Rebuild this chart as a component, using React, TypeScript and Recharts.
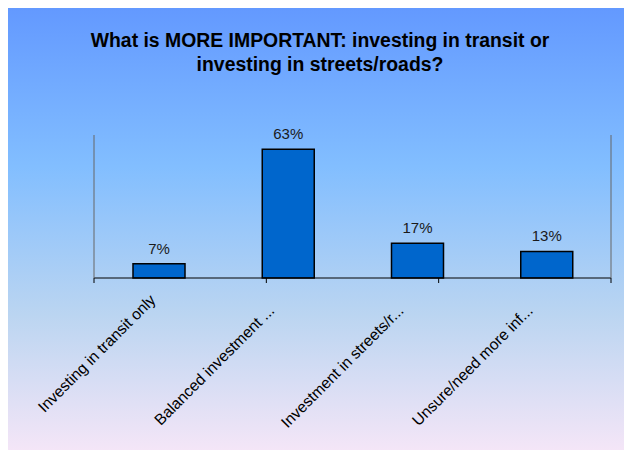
import { BarChart, Bar, XAxis, YAxis, LabelList } from 'recharts';

// survey answers (percent)
const CATEGORIES = [
  'Investing in transit only',
  'Balanced investment ...',
  'Investment in streets/r...',
  'Unsure/need more inf...',
];
const VALUES = [7, 63, 17, 13];
const BOUNDARY_TICKS = [0, 1, 2, 3, 4];

const DATA = CATEGORIES.map((name, i) => ({ name, value: VALUES[i] }));

const FONT = '"Liberation Sans", Arial, sans-serif';

const SlantTick = ({ x, y, payload }: { x?: number; y?: number; payload?: { value: string } }) => {
  const ax = (x ?? 0) - 2;
  const ay = (y ?? 0) + 14;
  const label = payload?.value ?? '';
  // truncated labels sit a little further out along the slant
  const shift = label.endsWith('...') ? -15 : 0;
  return (
    <text
      x={ax}
      y={ay}
      dx={shift}
      transform={`rotate(-45, ${ax}, ${ay})`}
      textAnchor="end"
      fontSize={15.6}
      fontFamily={FONT}
      fill="#000"
    >
      {label}
    </text>
  );
};

export default function App() {
  return (
    <div style={{ position: 'relative', margin: -8, width: 632, height: 458, overflow: 'hidden', fontFamily: FONT }}>
      <div
        style={{
          position: 'absolute',
          left: 7,
          top: 7,
          width: 660,
          height: 480,
          border: '1px solid #000',
          background: 'linear-gradient(to bottom, #6399FF 0%, #82BEFF 33%, #BBD5F1 64%, #FCE8F8 96%)',
        }}
      />
      <div
        style={{
          position: 'absolute',
          left: 0,
          top: 28,
          width: 640,
          textAlign: 'center',
          fontWeight: 'bold',
          fontSize: 19.4,
          lineHeight: '24px',
          color: '#000',
        }}
      >
        What is MORE IMPORTANT: investing in transit or
        <br />
        investing in streets/roads?
      </div>
      <div style={{ position: 'absolute', left: 0, top: 0 }}>
        <BarChart width={632} height={458} data={DATA} margin={{ top: 135, right: 20, bottom: 9, left: 93 }}>
          <XAxis
            xAxisId="bounds"
            type="number"
            domain={[0, 4]}
            ticks={BOUNDARY_TICKS}
            height={1}
            tickFormatter={() => ''}
            stroke="#000"
            tickLine={{ stroke: '#000' }}
            tickSize={5}
          />
          <XAxis
            xAxisId="cat"
            dataKey="name"
            height={170}
            interval={0}
            axisLine={false}
            tickLine={false}
            tick={<SlantTick />}
          />
          <YAxis yAxisId="left" domain={[0, 70]} width={1} tick={false} tickLine={false} stroke="#666" />
          <YAxis yAxisId="right" orientation="right" domain={[0, 70]} width={1} tick={false} tickLine={false} stroke="#666" />
          <Bar
            xAxisId="cat"
            yAxisId="left"
            dataKey="value"
            barSize={52}
            fill="#0066CC"
            stroke="#000"
            strokeWidth={1.5}
            isAnimationActive={false}
          >
            <LabelList
              dataKey="value"
              position="top"
              offset={10}
              formatter={(v: number) => `${v}%`}
              fill="#1a1a1a"
              fontSize={15}
              fontFamily={FONT}
            />
          </Bar>
        </BarChart>
      </div>
    </div>
  );
}
